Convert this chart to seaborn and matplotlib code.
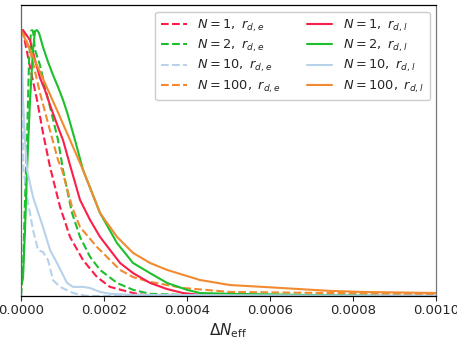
import numpy as np
import pandas as pd
import matplotlib
matplotlib.use("Agg")
import matplotlib.pyplot as plt
import seaborn as sns

# x values in units of 1e-4 (Delta N_eff), y = normalised density
red_e_x = [0, 0.048, 0.217, 0.386, 0.53, 0.699, 0.94, 1.181, 1.494, 1.831, 2.145, 2.699, 3.108, 10]
red_e_y = [1.0, 0.992, 0.861, 0.737, 0.613, 0.485, 0.335, 0.222, 0.135, 0.071, 0.034, 0.011, 0.0, 0.0]

green_e_x = [0, 0.048, 0.096, 0.145, 0.169, 0.193, 0.241, 0.265, 0.289, 0.337, 0.458, 0.578, 0.699,
             0.892, 1.012, 1.229, 1.422, 1.663, 1.904, 2.313, 2.699, 3.108, 3.904, 10]
green_e_y = [0.0, 0.098, 0.361, 0.586, 0.737, 0.887, 0.996, 1.0, 0.996, 0.925, 0.868, 0.786, 0.711,
             0.586, 0.474, 0.312, 0.222, 0.147, 0.098, 0.049, 0.023, 0.008, 0.004, 0.0]

blue_e_x = [0, 0.024, 0.048, 0.06, 0.169, 0.289, 0.41, 0.53, 0.651, 0.771, 0.94, 1.253, 1.59, 10]
blue_e_y = [0.992, 0.78, 0.586, 0.474, 0.35, 0.248, 0.173, 0.165, 0.135, 0.06, 0.034, 0.011, 0.0, 0.0]

orange_e_x = [0, 0.048, 0.217, 0.458, 0.651, 0.892, 0.988, 1.229, 1.422, 1.831, 2.145, 2.386, 2.699,
              3.108, 3.904, 5.036, 7.446, 10]
orange_e_y = [1.0, 0.992, 0.925, 0.763, 0.65, 0.511, 0.474, 0.335, 0.259, 0.184, 0.135, 0.098, 0.071,
              0.053, 0.03, 0.015, 0.011, 0.008]

red_l_x = [0, 0.048, 0.217, 0.337, 0.458, 0.578, 0.699, 0.892, 1.012, 1.181, 1.422, 1.663, 1.904,
           2.145, 2.386, 2.699, 3.108, 3.518, 3.904, 4.313, 5.036, 10]
red_l_y = [1.0, 1.0, 0.962, 0.887, 0.82, 0.774, 0.718, 0.635, 0.586, 0.492, 0.361, 0.286, 0.222,
           0.173, 0.124, 0.086, 0.049, 0.026, 0.011, 0.004, 0.0, 0.0]

green_l_x = [0, 0.048, 0.096, 0.145, 0.217, 0.289, 0.337, 0.386, 0.434, 0.53, 0.651, 0.771, 0.892,
             1.012, 1.108, 1.301, 1.494, 1.904, 2.313, 2.699, 3.108, 3.518, 4.0, 4.313, 5.036, 6.723,
             8.819, 10]
green_l_y = [0.038, 0.068, 0.248, 0.474, 0.737, 0.925, 0.996, 1.0, 0.989, 0.936, 0.88, 0.831, 0.786,
             0.737, 0.692, 0.586, 0.474, 0.312, 0.199, 0.124, 0.086, 0.049, 0.023, 0.011, 0.008, 0.004,
             0.0, 0.0]

blue_l_x = [0, 0.024, 0.048, 0.096, 0.145, 0.289, 0.53, 0.699, 0.867, 1.108, 1.253, 1.494, 1.663,
            1.904, 2.145, 2.699, 10]
blue_l_y = [1.0, 0.887, 0.737, 0.586, 0.474, 0.372, 0.259, 0.173, 0.124, 0.049, 0.034, 0.034, 0.03,
            0.015, 0.008, 0.004, 0.0]

orange_l_x = [0, 0.458, 0.94, 1.494, 1.904, 2.313, 2.699, 3.108, 3.518, 4.313, 5.036, 5.831, 7.446,
              8.241, 10]
orange_l_y = [1.0, 0.842, 0.673, 0.474, 0.312, 0.222, 0.162, 0.124, 0.098, 0.06, 0.041, 0.034, 0.019,
              0.015, 0.011]

N_values = ["1", "2", "10", "100"]
colors = ["#fa1f4a", "#1cbf2c", "#b7d2ea", "#f28a30"]

series_e = [(red_e_x, red_e_y), (green_e_x, green_e_y), (blue_e_x, blue_e_y), (orange_e_x, orange_e_y)]
series_l = [(red_l_x, red_l_y), (green_l_x, green_l_y), (blue_l_x, blue_l_y), (orange_l_x, orange_l_y)]

sns.set_style("white")
plt.rcParams['font.family'] = ['DejaVu Sans']
plt.rcParams['mathtext.fontset'] = 'dejavusans'

fig = plt.figure(figsize=(4.57, 3.39), dpi=100)
ax = fig.add_axes([0.046, 0.127, 0.908, 0.858])

for (xs, ys), c, n in zip(series_e, colors, N_values):
    df = pd.DataFrame({"x": np.array(xs) * 1e-4, "y": ys})
    sns.lineplot(data=df, x="x", y="y", ax=ax, color=c, linestyle="--", lw=1.5,
                 sort=False, estimator=None, label=rf"$N=${n}$,\ r_{{d,e}}$")
for (xs, ys), c, n in zip(series_l, colors, N_values):
    df = pd.DataFrame({"x": np.array(xs) * 1e-4, "y": ys})
    sns.lineplot(data=df, x="x", y="y", ax=ax, color=c, linestyle="-", lw=1.5,
                 sort=False, estimator=None, label=rf"$N=${n}$,\ r_{{d,l}}$")

ax.set_xlim(0, 0.001)
ax.set_ylim(0, 1.094)
ax.set_yticks([])
ax.set_xticks([0, 0.0002, 0.0004, 0.0006, 0.0008, 0.001])
ax.set_xticklabels(["0.0000", "0.0002", "0.0004", "0.0006", "0.0008", "0.0010"], fontsize=9.5)
ax.tick_params(axis="x", direction="out", length=3.5, width=0.8, bottom=True, pad=2.5)
ax.set_xlabel(r"$\Delta N_{\rm eff}$", fontsize=11, labelpad=3)
ax.set_ylabel("")
for s in ax.spines.values():
    s.set_color("black")
    s.set_linewidth(0.9)
ax.spines["left"].set_color("#666666")
ax.spines["right"].set_color("#777777")

ax.legend(loc="upper right", ncol=2, fontsize=9.3, handlelength=2.0, columnspacing=2.0,
          labelspacing=0.3, borderpad=0.45, handletextpad=0.8, frameon=True,
          edgecolor="#cccccc", framealpha=1.0)

fig.savefig("out.png", dpi=100)
